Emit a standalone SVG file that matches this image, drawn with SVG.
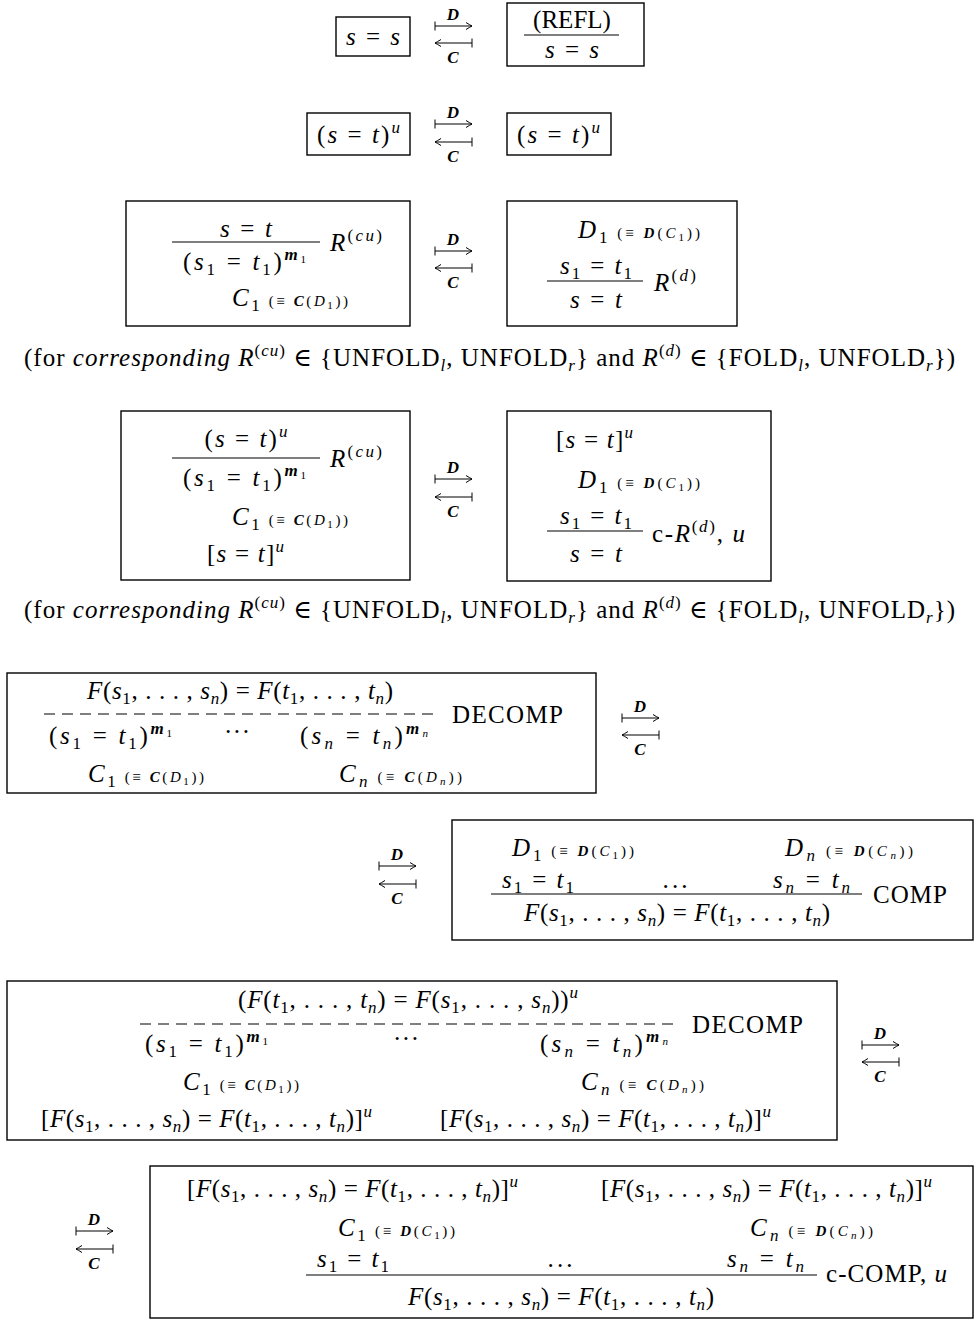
<svg xmlns="http://www.w3.org/2000/svg" width="974" height="1320" viewBox="0 0 974 1320">
<style>
.t{font-family:"Liberation Serif","DejaVu Serif",serif;font-size:25px;fill:#000}
.i{font-style:italic}
.b{font-weight:bold}
.s15{font-size:17px}
.s13{font-size:15px}
.s10{font-size:11px}
.box{fill:#fff;stroke:#000;stroke-width:1.4}
.rule{stroke:#000;stroke-width:1.2}
.dash{stroke:#000;stroke-width:1.2;stroke-dasharray:11 7}
.arr{stroke:#000;stroke-width:1;fill:none;marker-start:url(#bar);marker-end:url(#head)}
.lbl{font-family:"Liberation Serif","DejaVu Serif",serif;font-size:17px;font-style:italic;font-weight:bold;text-anchor:middle}
</style>
<defs>
<marker id="bar" markerUnits="userSpaceOnUse" viewBox="-6 -6 12 12" markerWidth="12" markerHeight="12" refX="0" refY="0" orient="auto" overflow="visible"><path d="M0,-4.5V4.5" stroke="#000" stroke-width="1" fill="none"/></marker>
<marker id="head" markerUnits="userSpaceOnUse" viewBox="-8 -6 12 12" markerWidth="12" markerHeight="12" refX="0" refY="0" orient="auto" overflow="visible"><path d="M-6,-3.5Q-2,-1 0,0Q-2,1 -6,3.5" stroke="#000" stroke-width="1" fill="none"/></marker>
</defs>
<rect width="974" height="1320" fill="#fff"/>

<!-- Row 1 -->
<g id="n1a"><rect class="box" x="336" y="17" width="74" height="39"/>
<text class="t" x="373" y="45" text-anchor="middle" textLength="54"><tspan class="i">s</tspan> = <tspan class="i">s</tspan></text></g>
<g id="n1b"><rect class="box" x="507" y="3" width="137" height="63"/>
<text class="t" x="572" y="28" text-anchor="middle" font-size="21">(REFL)</text>
<line class="rule" x1="524" y1="35" x2="619" y2="35"/>
<text class="t" x="572" y="58" text-anchor="middle" textLength="54"><tspan class="i">s</tspan> = <tspan class="i">s</tspan></text></g>

<!-- Row 2 -->
<g id="n2a"><rect class="box" x="307" y="113" width="103" height="42"/>
<text class="t" x="317" y="143" textLength="83">(<tspan class="i">s</tspan> = <tspan class="i">t</tspan>)<tspan class="i s15" dy="-10">u</tspan></text></g>
<g id="n2b"><rect class="box" x="507" y="113" width="104" height="42"/>
<text class="t" x="517" y="143" textLength="83">(<tspan class="i">s</tspan> = <tspan class="i">t</tspan>)<tspan class="i s15" dy="-10">u</tspan></text></g>

<!-- Row 3 -->
<g id="n3a"><rect class="box" x="126" y="201" width="284" height="125"/>
<text class="t" x="246" y="237" text-anchor="middle" textLength="52"><tspan class="i">s</tspan> = <tspan class="i">t</tspan></text>
<line class="rule" x1="172" y1="242" x2="320" y2="242"/>
<text class="t" x="183" y="270" textLength="123">(<tspan class="i">s</tspan><tspan class="s15" dy="5">1</tspan><tspan dy="-5"> = </tspan><tspan class="i">t</tspan><tspan class="s15" dy="5">1</tspan><tspan dy="-5">)</tspan><tspan class="i b s15" dy="-10">m</tspan><tspan class="s10" dy="3">1</tspan></text>
<text class="t" x="330" y="251" textLength="52"><tspan class="i">R</tspan><tspan class="s15" dy="-10">(<tspan class="i">cu</tspan>)</tspan></text>
<text class="t" x="232" y="306" textLength="116"><tspan class="i">C</tspan><tspan class="s15" dy="5">1</tspan><tspan class="s13" dy="-5"> (≡ <tspan class="i b">C</tspan>(<tspan class="i">D</tspan><tspan class="s10" dy="3">1</tspan><tspan dy="-3">))</tspan></tspan></text></g>
<g id="n3b"><rect class="box" x="507" y="201" width="230" height="125"/>
<text class="t" x="578" y="238" textLength="122"><tspan class="i">D</tspan><tspan class="s15" dy="5">1</tspan><tspan class="s13" dy="-5"> (≡ <tspan class="i b">D</tspan>(<tspan class="i">C</tspan><tspan class="s10" dy="3">1</tspan><tspan dy="-3">))</tspan></tspan></text>
<text class="t" x="596" y="274" text-anchor="middle" textLength="72"><tspan class="i">s</tspan><tspan class="s15" dy="5">1</tspan><tspan dy="-5"> = </tspan><tspan class="i">t</tspan><tspan class="s15" dy="5">1</tspan></text>
<line class="rule" x1="547" y1="281" x2="643" y2="281"/>
<text class="t" x="596" y="308" text-anchor="middle" textLength="52"><tspan class="i">s</tspan> = <tspan class="i">t</tspan></text>
<text class="t" x="654" y="291" textLength="42"><tspan class="i">R</tspan><tspan class="s15" dy="-10">(<tspan class="i">d</tspan>)</tspan></text></g>

<g id="notes">
<text class="t" x="24" y="366" textLength="931">(for <tspan class="i">corresponding</tspan>  <tspan class="i">R</tspan><tspan class="s15" dy="-10">(<tspan class="i">cu</tspan>)</tspan><tspan dy="10"> ∈ {UNFOLD</tspan><tspan class="s15 i" dy="5">l</tspan><tspan dy="-5">, UNFOLD</tspan><tspan class="s15 i" dy="5">r</tspan><tspan dy="-5">} and  </tspan><tspan class="i">R</tspan><tspan class="s15" dy="-10">(<tspan class="i">d</tspan>)</tspan><tspan dy="10"> ∈ {FOLD</tspan><tspan class="s15 i" dy="5">l</tspan><tspan dy="-5">, UNFOLD</tspan><tspan class="s15 i" dy="5">r</tspan><tspan dy="-5">})</tspan></text>
<text class="t" x="24" y="618" textLength="931">(for <tspan class="i">corresponding</tspan>  <tspan class="i">R</tspan><tspan class="s15" dy="-10">(<tspan class="i">cu</tspan>)</tspan><tspan dy="10"> ∈ {UNFOLD</tspan><tspan class="s15 i" dy="5">l</tspan><tspan dy="-5">, UNFOLD</tspan><tspan class="s15 i" dy="5">r</tspan><tspan dy="-5">} and  </tspan><tspan class="i">R</tspan><tspan class="s15" dy="-10">(<tspan class="i">d</tspan>)</tspan><tspan dy="10"> ∈ {FOLD</tspan><tspan class="s15 i" dy="5">l</tspan><tspan dy="-5">, UNFOLD</tspan><tspan class="s15 i" dy="5">r</tspan><tspan dy="-5">})</tspan></text>
</g>

<!-- Row 4 -->
<g id="n4a"><rect class="box" x="121" y="411" width="289" height="169"/>
<text class="t" x="246" y="447" text-anchor="middle" textLength="83">(<tspan class="i">s</tspan> = <tspan class="i">t</tspan>)<tspan class="i s15" dy="-10">u</tspan></text>
<line class="rule" x1="172" y1="458" x2="320" y2="458"/>
<text class="t" x="183" y="486" textLength="123">(<tspan class="i">s</tspan><tspan class="s15" dy="5">1</tspan><tspan dy="-5"> = </tspan><tspan class="i">t</tspan><tspan class="s15" dy="5">1</tspan><tspan dy="-5">)</tspan><tspan class="i b s15" dy="-10">m</tspan><tspan class="s10" dy="3">1</tspan></text>
<text class="t" x="330" y="467" textLength="52"><tspan class="i">R</tspan><tspan class="s15" dy="-10">(<tspan class="i">cu</tspan>)</tspan></text>
<text class="t" x="232" y="525" textLength="116"><tspan class="i">C</tspan><tspan class="s15" dy="5">1</tspan><tspan class="s13" dy="-5"> (≡ <tspan class="i b">C</tspan>(<tspan class="i">D</tspan><tspan class="s10" dy="3">1</tspan><tspan dy="-3">))</tspan></tspan></text>
<text class="t" x="207" y="562" textLength="77">[<tspan class="i">s</tspan> = <tspan class="i">t</tspan>]<tspan class="i s15" dy="-10">u</tspan></text></g>
<g id="n4b"><rect class="box" x="507" y="411" width="264" height="170"/>
<text class="t" x="556" y="448" textLength="77">[<tspan class="i">s</tspan> = <tspan class="i">t</tspan>]<tspan class="i s15" dy="-10">u</tspan></text>
<text class="t" x="578" y="488" textLength="122"><tspan class="i">D</tspan><tspan class="s15" dy="5">1</tspan><tspan class="s13" dy="-5"> (≡ <tspan class="i b">D</tspan>(<tspan class="i">C</tspan><tspan class="s10" dy="3">1</tspan><tspan dy="-3">))</tspan></tspan></text>
<text class="t" x="596" y="524" text-anchor="middle" textLength="72"><tspan class="i">s</tspan><tspan class="s15" dy="5">1</tspan><tspan dy="-5"> = </tspan><tspan class="i">t</tspan><tspan class="s15" dy="5">1</tspan></text>
<line class="rule" x1="547" y1="531" x2="643" y2="531"/>
<text class="t" x="596" y="562" text-anchor="middle" textLength="52"><tspan class="i">s</tspan> = <tspan class="i">t</tspan></text>
<text class="t" x="652" y="542" textLength="93">c-<tspan class="i">R</tspan><tspan class="s15" dy="-10">(<tspan class="i">d</tspan>)</tspan><tspan dy="10">, </tspan><tspan class="i">u</tspan></text></g>

<!-- Row 5 -->
<g id="n5"><rect class="box" x="7" y="673" width="589" height="120"/>
<text class="t" x="240" y="699" text-anchor="middle" textLength="306"><tspan class="i">F</tspan>(<tspan class="i">s</tspan><tspan class="s15" dy="5">1</tspan><tspan dy="-5">, . . . , </tspan><tspan class="i">s</tspan><tspan class="s15 i" dy="5">n</tspan><tspan dy="-5">) = </tspan><tspan class="i">F</tspan>(<tspan class="i">t</tspan><tspan class="s15" dy="5">1</tspan><tspan dy="-5">, . . . , </tspan><tspan class="i">t</tspan><tspan class="s15 i" dy="5">n</tspan><tspan dy="-5">)</tspan></text>
<line class="dash" x1="44" y1="714" x2="438" y2="714"/>
<text class="t" x="452" y="723" textLength="111">DECOMP</text>
<text class="t" x="49" y="744" textLength="123">(<tspan class="i">s</tspan><tspan class="s15" dy="5">1</tspan><tspan dy="-5"> = </tspan><tspan class="i">t</tspan><tspan class="s15" dy="5">1</tspan><tspan dy="-5">)</tspan><tspan class="i b s15" dy="-10">m</tspan><tspan class="s10" dy="3">1</tspan></text>
<text class="t" x="237" y="740" text-anchor="middle" textLength="26">· · ·</text>
<text class="t" x="300" y="744" textLength="128">(<tspan class="i">s</tspan><tspan class="s15 i" dy="5">n</tspan><tspan dy="-5"> = </tspan><tspan class="i">t</tspan><tspan class="s15 i" dy="5">n</tspan><tspan dy="-5">)</tspan><tspan class="i b s15" dy="-10">m</tspan><tspan class="s10 i" dy="3">n</tspan></text>
<text class="t" x="88" y="782" textLength="116"><tspan class="i">C</tspan><tspan class="s15" dy="5">1</tspan><tspan class="s13" dy="-5"> (≡ <tspan class="i b">C</tspan>(<tspan class="i">D</tspan><tspan class="s10" dy="3">1</tspan><tspan dy="-3">))</tspan></tspan></text>
<text class="t" x="339" y="782" textLength="123"><tspan class="i">C</tspan><tspan class="s15 i" dy="5">n</tspan><tspan class="s13" dy="-5"> (≡ <tspan class="i b">C</tspan>(<tspan class="i">D</tspan><tspan class="s10 i" dy="3">n</tspan><tspan dy="-3">))</tspan></tspan></text></g>

<!-- Row 6 -->
<g id="n6"><rect class="box" x="452" y="820" width="521" height="120"/>
<text class="t" x="512" y="856" textLength="122"><tspan class="i">D</tspan><tspan class="s15" dy="5">1</tspan><tspan class="s13" dy="-5"> (≡ <tspan class="i b">D</tspan>(<tspan class="i">C</tspan><tspan class="s10" dy="3">1</tspan><tspan dy="-3">))</tspan></tspan></text>
<text class="t" x="785" y="856" textLength="128"><tspan class="i">D</tspan><tspan class="s15 i" dy="5">n</tspan><tspan class="s13" dy="-5"> (≡ <tspan class="i b">D</tspan>(<tspan class="i">C</tspan><tspan class="s10 i" dy="3">n</tspan><tspan dy="-3">))</tspan></tspan></text>
<text class="t" x="502" y="888" textLength="72"><tspan class="i">s</tspan><tspan class="s15" dy="5">1</tspan><tspan dy="-5"> = </tspan><tspan class="i">t</tspan><tspan class="s15" dy="5">1</tspan></text>
<text class="t" x="675" y="888" text-anchor="middle" textLength="25">. . .</text>
<text class="t" x="773" y="888" textLength="77"><tspan class="i">s</tspan><tspan class="s15 i" dy="5">n</tspan><tspan dy="-5"> = </tspan><tspan class="i">t</tspan><tspan class="s15 i" dy="5">n</tspan></text>
<line class="rule" x1="491" y1="894" x2="862" y2="894"/>
<text class="t" x="873" y="903" textLength="74">COMP</text>
<text class="t" x="677" y="921" text-anchor="middle" textLength="306"><tspan class="i">F</tspan>(<tspan class="i">s</tspan><tspan class="s15" dy="5">1</tspan><tspan dy="-5">, . . . , </tspan><tspan class="i">s</tspan><tspan class="s15 i" dy="5">n</tspan><tspan dy="-5">) = </tspan><tspan class="i">F</tspan>(<tspan class="i">t</tspan><tspan class="s15" dy="5">1</tspan><tspan dy="-5">, . . . , </tspan><tspan class="i">t</tspan><tspan class="s15 i" dy="5">n</tspan><tspan dy="-5">)</tspan></text></g>

<!-- Row 7 -->
<g id="n7"><rect class="box" x="7" y="981" width="830" height="159"/>
<text class="t" x="408" y="1008" text-anchor="middle" textLength="340">(<tspan class="i">F</tspan>(<tspan class="i">t</tspan><tspan class="s15" dy="5">1</tspan><tspan dy="-5">, . . . , </tspan><tspan class="i">t</tspan><tspan class="s15 i" dy="5">n</tspan><tspan dy="-5">) = </tspan><tspan class="i">F</tspan>(<tspan class="i">s</tspan><tspan class="s15" dy="5">1</tspan><tspan dy="-5">, . . . , </tspan><tspan class="i">s</tspan><tspan class="s15 i" dy="5">n</tspan><tspan dy="-5">))</tspan><tspan class="i s15" dy="-10">u</tspan></text>
<line class="dash" x1="140" y1="1024" x2="680" y2="1024"/>
<text class="t" x="692" y="1033" textLength="111">DECOMP</text>
<text class="t" x="145" y="1052" textLength="123">(<tspan class="i">s</tspan><tspan class="s15" dy="5">1</tspan><tspan dy="-5"> = </tspan><tspan class="i">t</tspan><tspan class="s15" dy="5">1</tspan><tspan dy="-5">)</tspan><tspan class="i b s15" dy="-10">m</tspan><tspan class="s10" dy="3">1</tspan></text>
<text class="t" x="406" y="1047" text-anchor="middle" textLength="26">· · ·</text>
<text class="t" x="540" y="1052" textLength="128">(<tspan class="i">s</tspan><tspan class="s15 i" dy="5">n</tspan><tspan dy="-5"> = </tspan><tspan class="i">t</tspan><tspan class="s15 i" dy="5">n</tspan><tspan dy="-5">)</tspan><tspan class="i b s15" dy="-10">m</tspan><tspan class="s10 i" dy="3">n</tspan></text>
<text class="t" x="183" y="1090" textLength="116"><tspan class="i">C</tspan><tspan class="s15" dy="5">1</tspan><tspan class="s13" dy="-5"> (≡ <tspan class="i b">C</tspan>(<tspan class="i">D</tspan><tspan class="s10" dy="3">1</tspan><tspan dy="-3">))</tspan></tspan></text>
<text class="t" x="581" y="1090" textLength="123"><tspan class="i">C</tspan><tspan class="s15 i" dy="5">n</tspan><tspan class="s13" dy="-5"> (≡ <tspan class="i b">C</tspan>(<tspan class="i">D</tspan><tspan class="s10 i" dy="3">n</tspan><tspan dy="-3">))</tspan></tspan></text>
<text class="t" x="41" y="1127" textLength="331">[<tspan class="i">F</tspan>(<tspan class="i">s</tspan><tspan class="s15" dy="5">1</tspan><tspan dy="-5">, . . . , </tspan><tspan class="i">s</tspan><tspan class="s15 i" dy="5">n</tspan><tspan dy="-5">) = </tspan><tspan class="i">F</tspan>(<tspan class="i">t</tspan><tspan class="s15" dy="5">1</tspan><tspan dy="-5">, . . . , </tspan><tspan class="i">t</tspan><tspan class="s15 i" dy="5">n</tspan><tspan dy="-5">)]</tspan><tspan class="i s15" dy="-10">u</tspan></text>
<text class="t" x="440" y="1127" textLength="331">[<tspan class="i">F</tspan>(<tspan class="i">s</tspan><tspan class="s15" dy="5">1</tspan><tspan dy="-5">, . . . , </tspan><tspan class="i">s</tspan><tspan class="s15 i" dy="5">n</tspan><tspan dy="-5">) = </tspan><tspan class="i">F</tspan>(<tspan class="i">t</tspan><tspan class="s15" dy="5">1</tspan><tspan dy="-5">, . . . , </tspan><tspan class="i">t</tspan><tspan class="s15 i" dy="5">n</tspan><tspan dy="-5">)]</tspan><tspan class="i s15" dy="-10">u</tspan></text></g>

<!-- Row 8 -->
<g id="n8"><rect class="box" x="150" y="1166" width="823" height="152"/>
<text class="t" x="187" y="1197" textLength="331">[<tspan class="i">F</tspan>(<tspan class="i">s</tspan><tspan class="s15" dy="5">1</tspan><tspan dy="-5">, . . . , </tspan><tspan class="i">s</tspan><tspan class="s15 i" dy="5">n</tspan><tspan dy="-5">) = </tspan><tspan class="i">F</tspan>(<tspan class="i">t</tspan><tspan class="s15" dy="5">1</tspan><tspan dy="-5">, . . . , </tspan><tspan class="i">t</tspan><tspan class="s15 i" dy="5">n</tspan><tspan dy="-5">)]</tspan><tspan class="i s15" dy="-10">u</tspan></text>
<text class="t" x="601" y="1197" textLength="331">[<tspan class="i">F</tspan>(<tspan class="i">s</tspan><tspan class="s15" dy="5">1</tspan><tspan dy="-5">, . . . , </tspan><tspan class="i">s</tspan><tspan class="s15 i" dy="5">n</tspan><tspan dy="-5">) = </tspan><tspan class="i">F</tspan>(<tspan class="i">t</tspan><tspan class="s15" dy="5">1</tspan><tspan dy="-5">, . . . , </tspan><tspan class="i">t</tspan><tspan class="s15 i" dy="5">n</tspan><tspan dy="-5">)]</tspan><tspan class="i s15" dy="-10">u</tspan></text>
<text class="t" x="338" y="1236" textLength="117"><tspan class="i">C</tspan><tspan class="s15" dy="5">1</tspan><tspan class="s13" dy="-5"> (≡ <tspan class="i b">D</tspan>(<tspan class="i">C</tspan><tspan class="s10" dy="3">1</tspan><tspan dy="-3">))</tspan></tspan></text>
<text class="t" x="750" y="1236" textLength="123"><tspan class="i">C</tspan><tspan class="s15 i" dy="5">n</tspan><tspan class="s13" dy="-5"> (≡ <tspan class="i b">D</tspan>(<tspan class="i">C</tspan><tspan class="s10 i" dy="3">n</tspan><tspan dy="-3">))</tspan></tspan></text>
<text class="t" x="317" y="1267" textLength="72"><tspan class="i">s</tspan><tspan class="s15" dy="5">1</tspan><tspan dy="-5"> = </tspan><tspan class="i">t</tspan><tspan class="s15" dy="5">1</tspan></text>
<text class="t" x="560" y="1267" text-anchor="middle" textLength="25">. . .</text>
<text class="t" x="727" y="1267" textLength="77"><tspan class="i">s</tspan><tspan class="s15 i" dy="5">n</tspan><tspan dy="-5"> = </tspan><tspan class="i">t</tspan><tspan class="s15 i" dy="5">n</tspan></text>
<line class="rule" x1="306" y1="1275" x2="817" y2="1275"/>
<text class="t" x="826" y="1282" textLength="121">c-COMP, <tspan class="i">u</tspan></text>
<text class="t" x="561" y="1305" text-anchor="middle" textLength="306"><tspan class="i">F</tspan>(<tspan class="i">s</tspan><tspan class="s15" dy="5">1</tspan><tspan dy="-5">, . . . , </tspan><tspan class="i">s</tspan><tspan class="s15 i" dy="5">n</tspan><tspan dy="-5">) = </tspan><tspan class="i">F</tspan>(<tspan class="i">t</tspan><tspan class="s15" dy="5">1</tspan><tspan dy="-5">, . . . , </tspan><tspan class="i">t</tspan><tspan class="s15 i" dy="5">n</tspan><tspan dy="-5">)</tspan></text></g>

<!-- Connectors -->
<g id="connectors">
<path class="arr" d="M435,26H472"/><path class="arr" d="M472,43H435"/>
<text class="lbl" x="453" y="20">D</text><text class="lbl" x="453" y="63">C</text>
<path class="arr" d="M435,124H472"/><path class="arr" d="M472,142H435"/>
<text class="lbl" x="453" y="118">D</text><text class="lbl" x="453" y="162">C</text>
<path class="arr" d="M435,251H472"/><path class="arr" d="M472,268H435"/>
<text class="lbl" x="453" y="245">D</text><text class="lbl" x="453" y="288">C</text>
<path class="arr" d="M435,479H472"/><path class="arr" d="M472,497H435"/>
<text class="lbl" x="453" y="473">D</text><text class="lbl" x="453" y="517">C</text>
<path class="arr" d="M622,718H659"/><path class="arr" d="M659,735H622"/>
<text class="lbl" x="640" y="712">D</text><text class="lbl" x="640" y="755">C</text>
<path class="arr" d="M379,866H416"/><path class="arr" d="M416,884H379"/>
<text class="lbl" x="397" y="860">D</text><text class="lbl" x="397" y="904">C</text>
<path class="arr" d="M862,1045H899"/><path class="arr" d="M899,1062H862"/>
<text class="lbl" x="880" y="1039">D</text><text class="lbl" x="880" y="1082">C</text>
<path class="arr" d="M76,1231H113"/><path class="arr" d="M113,1249H76"/>
<text class="lbl" x="94" y="1225">D</text><text class="lbl" x="94" y="1269">C</text>
</g>
</svg>
